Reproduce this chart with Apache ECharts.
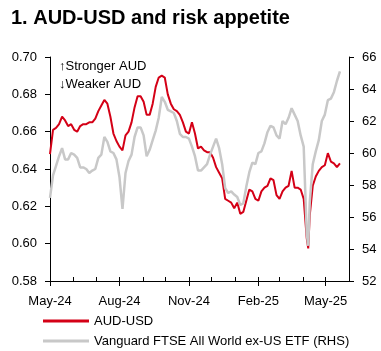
<!DOCTYPE html>
<html>
<head>
<meta charset="utf-8">
<script src="https://cdn.jsdelivr.net/npm/echarts@6/dist/echarts.min.js"></script>
<style>
html, body { margin: 0; padding: 0; background: #fff; }
#chart { width: 381px; height: 351px; }
</style>
</head>
<body>
<div id="chart"></div>
<script>
// dates (roughly every 4 days, plus the April 2025 low)
var dates = [
    '2024-05-01','2024-05-05','2024-05-09','2024-05-13','2024-05-17','2024-05-21','2024-05-25','2024-05-29',
    '2024-06-02','2024-06-06','2024-06-10','2024-06-14','2024-06-18','2024-06-22','2024-06-26','2024-06-30',
    '2024-07-04','2024-07-08','2024-07-12','2024-07-16','2024-07-20','2024-07-24','2024-07-28',
    '2024-08-01','2024-08-05','2024-08-09','2024-08-13','2024-08-17','2024-08-21','2024-08-25','2024-08-29',
    '2024-09-02','2024-09-06','2024-09-10','2024-09-14','2024-09-18','2024-09-22','2024-09-26','2024-09-30',
    '2024-10-04','2024-10-08','2024-10-12','2024-10-16','2024-10-20','2024-10-24','2024-10-28',
    '2024-11-01','2024-11-05','2024-11-09','2024-11-13','2024-11-17','2024-11-21','2024-11-25','2024-11-29',
    '2024-12-03','2024-12-07','2024-12-11','2024-12-15','2024-12-19','2024-12-23','2024-12-27','2024-12-31',
    '2025-01-04','2025-01-08','2025-01-12','2025-01-16','2025-01-20','2025-01-24','2025-01-28',
    '2025-02-01','2025-02-05','2025-02-09','2025-02-13','2025-02-17','2025-02-21','2025-02-25',
    '2025-03-01','2025-03-05','2025-03-09','2025-03-13','2025-03-17','2025-03-21','2025-03-25','2025-03-29',
    '2025-04-02','2025-04-06','2025-04-08','2025-04-10','2025-04-14','2025-04-18','2025-04-22','2025-04-26','2025-04-30',
    '2025-05-04','2025-05-08','2025-05-12','2025-05-16','2025-05-20'
];
// AUD-USD, left axis
var audUsd = [
    0.648, 0.661, 0.662, 0.664, 0.668, 0.666, 0.663, 0.664,
    0.661, 0.660, 0.663, 0.664, 0.664, 0.665, 0.665, 0.667,
    0.671, 0.674, 0.677, 0.675, 0.668, 0.659, 0.655,
    0.652, 0.650, 0.658, 0.660, 0.665, 0.673, 0.679, 0.679,
    0.676, 0.669, 0.669, 0.675, 0.684, 0.689, 0.690, 0.689,
    0.680, 0.675, 0.672, 0.671, 0.669, 0.665, 0.660,
    0.659, 0.665, 0.659, 0.651, 0.652, 0.650, 0.649, 0.649,
    0.646, 0.641, 0.638, 0.635, 0.624, 0.623, 0.622, 0.619,
    0.622, 0.616, 0.617, 0.623, 0.629, 0.628, 0.624,
    0.623, 0.628, 0.630, 0.631, 0.635, 0.634, 0.626,
    0.624, 0.628, 0.630, 0.631, 0.639, 0.630, 0.630, 0.629,
    0.624, 0.603, 0.5975, 0.615, 0.631, 0.636, 0.639, 0.641, 0.642,
    0.6485, 0.644, 0.643, 0.641, 0.643
];
// Vanguard FTSE All World ex-US ETF, right axis
var vanguard = [
    57.2, 58.6, 59.2, 59.8, 60.3, 59.6, 59.6, 60.0,
    59.9, 59.7, 59.1, 59.1, 59.0, 58.75, 58.9, 59.0,
    59.7, 59.9, 61.0, 60.7, 60.1, 60.0, 59.6,
    58.5, 56.5, 58.75, 59.5, 59.9, 61.0, 61.6, 61.6,
    61.1, 59.8, 60.2, 60.8, 61.4, 62.2, 63.5, 63.2,
    62.7, 62.6, 62.5, 62.0, 61.2, 61.0, 61.0,
    60.9, 60.4, 59.8, 58.9, 58.9, 59.1, 59.3, 59.9,
    60.4, 60.9, 60.3, 59.3, 57.8, 57.5, 57.6, 57.4,
    57.25, 56.75, 56.85, 57.9, 58.8, 59.4, 59.3,
    60.0, 60.1, 60.6, 61.3, 61.7, 61.6, 61.1,
    60.9, 62.0, 61.8, 62.2, 62.8, 62.4, 62.0, 61.1,
    60.4, 55.0, 54.2, 56.9, 59.3, 60.1, 60.8, 62.0, 62.4,
    63.3, 63.4, 63.8, 64.5, 65.1
];
// x axis: a tick every month, a label every quarter
var monthTicks = [
    '2024-05-01','2024-06-01','2024-07-01','2024-08-01','2024-09-01','2024-10-01','2024-11-01',
    '2024-12-01','2025-01-01','2025-02-01','2025-03-01','2025-04-01','2025-05-01','2025-06-01'
];
var labelTicks = ['2024-05-01','2024-08-01','2024-11-01','2025-02-01','2025-05-01'];
var monthNames = ['Jan','Feb','Mar','Apr','May','Jun','Jul','Aug','Sep','Oct','Nov','Dec'];

var FONT = 'Liberation Sans, Arial, sans-serif';
var RED = '#d40016';
var GREY = '#c8c8c8';

// dates -> ms (UTC) so they sit on a plain value axis
function toTime(s) {
    var p = s.split('-');
    return Date.UTC(+p[0], +p[1] - 1, +p[2]);
}

function legendItem(name, top) {
    return {
        left: 43,
        top: top,
        icon: 'rect',
        itemWidth: 46,
        itemHeight: 3,
        padding: 0,
        textStyle: { fontFamily: FONT, fontSize: 13, color: '#000', lineHeight: 16 },
        data: [name]
    };
}

var chart = echarts.init(document.getElementById('chart'));

var options = {
    animation: false,
    backgroundColor: '#fff',
    title: {
        text: '1. AUD-USD and risk appetite',
        left: 6,
        top: 3,
        textStyle: { fontFamily: FONT, fontSize: 20, fontWeight: 'bold', color: '#000' }
    },
    grid: { left: 50, right: 32, top: 57, bottom: 70 },
    legend: [
        legendItem('AUD-USD', 313),
        legendItem('Vanguard FTSE All World ex-US ETF (RHS)', 333)
    ],
    graphic: [{
        type: 'text',
        left: 59,
        top: 58,
        style: {
            text: '\u2191Stronger AUD\n\u2193Weaker AUD',
            font: '13px ' + FONT,
            lineHeight: 17.5,
            fill: '#000'
        }
    }],
    xAxis: [{
        type: 'value',
        min: toTime('2024-05-01'),
        max: toTime('2025-06-01'),
        axisLine: { lineStyle: { color: '#000', width: 1 } },
        axisTick: {
            inside: true,
            length: 4,
            lineStyle: { color: '#000' },
            customValues: monthTicks.map(toTime)
        },
        axisLabel: {
            margin: 14,
            color: '#000',
            fontFamily: FONT,
            fontSize: 13,
            customValues: labelTicks.map(toTime),
            formatter: function (v) {
                var d = new Date(v);
                return monthNames[d.getUTCMonth()] + '-' + String(d.getUTCFullYear()).slice(2);
            }
        },
        splitLine: { show: false }
    }, {
        // longer ticks under the quarter labels
        type: 'value',
        position: 'bottom',
        min: toTime('2024-05-01'),
        max: toTime('2025-06-01'),
        axisLine: { show: false },
        axisTick: {
            length: 5,
            lineStyle: { color: '#000' },
            customValues: labelTicks.map(toTime)
        },
        axisLabel: { show: false },
        splitLine: { show: false }
    }],
    yAxis: [{
        type: 'value',
        min: 0.58,
        max: 0.70,
        interval: 0.02,
        axisLine: { show: true, lineStyle: { color: '#000' } },
        axisTick: { show: true, length: 5, lineStyle: { color: '#000' } },
        axisLabel: {
            margin: 13, color: '#000', fontFamily: FONT, fontSize: 13,
            formatter: function (v) { return v.toFixed(2); }
        },
        splitLine: { show: false }
    }, {
        type: 'value',
        position: 'right',
        min: 52,
        max: 66,
        interval: 2,
        axisLine: { show: true, lineStyle: { color: '#000' } },
        axisTick: { show: true, length: 5, lineStyle: { color: '#000' } },
        axisLabel: { margin: 13, color: '#000', fontFamily: FONT, fontSize: 13 },
        splitLine: { show: false }
    }],
    series: [{
        name: 'AUD-USD',
        type: 'line',
        yAxisIndex: 0,
        z: 2,
        symbol: 'none',
        color: RED,
        lineStyle: { width: 2, color: RED },
        data: dates.map(function (d, i) { return [toTime(d), audUsd[i]]; })
    }, {
        name: 'Vanguard FTSE All World ex-US ETF (RHS)',
        type: 'line',
        yAxisIndex: 1,
        z: 3,
        symbol: 'none',
        color: GREY,
        lineStyle: { width: 2.5, color: GREY },
        data: dates.map(function (d, i) { return [toTime(d), vanguard[i]]; })
    }]
};

chart.setOption(options);
</script>
</body>
</html>
